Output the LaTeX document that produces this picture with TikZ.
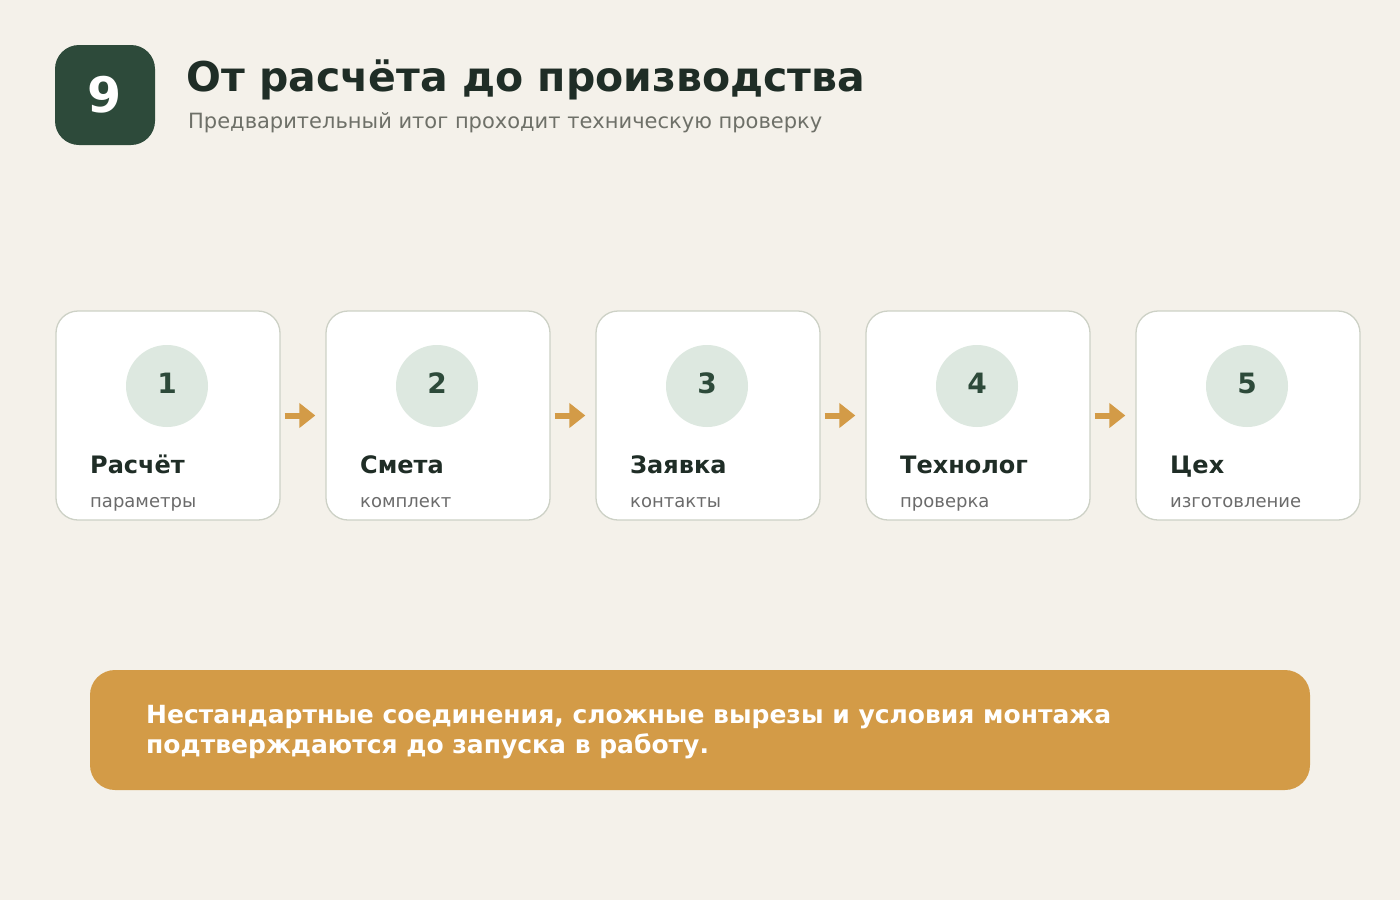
\documentclass[tikz,border=0pt]{standalone}
\usepackage{fontspec}
\setmainfont{DejaVu Sans}
\usetikzlibrary{arrows.meta}
\definecolor{bg}{HTML}{F4F1EA}
\definecolor{darkgreen}{HTML}{2D4A3A}
\definecolor{titlecol}{HTML}{1F2D26}
\definecolor{subcol}{HTML}{6E7068}
\definecolor{cardborder}{HTML}{CDD1C6}
\definecolor{circlecol}{HTML}{DDE8E0}
\definecolor{accent}{HTML}{D39B47}
\definecolor{graytext}{HTML}{6B6B6B}
\tikzset{
  card/.style={draw=cardborder, line width=1.3pt, fill=white, rounded corners=22pt, minimum width=224pt, minimum height=209pt, inner sep=0pt},
  numcirc/.style={circle, fill=circlecol, minimum size=82pt, inner sep=0pt, font=\bfseries\fontsize{28}{32}\selectfont, text=darkgreen},
  cardtitle/.style={anchor=base west, inner sep=0pt, font=\bfseries\fontsize{24}{28}\selectfont, text=titlecol},
  cardsub/.style={anchor=base west, inner sep=0pt, font=\fontsize{18}{21}\selectfont, text=graytext},
  flowarrow/.style={draw=accent, line width=6pt, -{Triangle[length=16pt,width=24pt]}}
}
\begin{document}
\begin{tikzpicture}[x=1pt,y=-1pt]
\path[use as bounding box, fill=bg] (0,0) rectangle (1400,900);
% badge
\node[fill=darkgreen, rounded corners=24pt, minimum width=100pt, minimum height=100pt, inner sep=0pt, text=white, font=\bfseries\fontsize{49}{52}\selectfont] (badge) at (105,95) {9};
\node[anchor=base west, inner sep=0pt, text=titlecol, font=\bfseries\fontsize{41}{46}\selectfont] (title) at (186,91) {От расчёта до производства};
\node[anchor=base west, inner sep=0pt, text=subcol, font=\fontsize{21}{25}\selectfont] (subtitle) at (188,128) {Предварительный итог проходит техническую проверку};
% cards
\foreach \i/\t/\s in {1/Расчёт/параметры, 2/Смета/комплект, 3/Заявка/контакты, 4/Технолог/проверка, 5/Цех/изготовление}{
  \pgfmathsetmacro{\cx}{168+270*(\i-1)}
  \node[card] (c\i) at (\cx,415.5) {};
  \node[numcirc] (n\i) at (\cx-1,386) {\raisebox{6pt}{\i}};
  \node[cardtitle] (t\i) at (\cx-78,473) {\t};
  \node[cardsub] (s\i) at (\cx-78,507) {\s};
}
\foreach \a/\b in {1/2,2/3,3/4,4/5}{
  \draw[flowarrow] ([xshift=4pt]c\a.east) -- ([xshift=-10pt]c\b.west);
}
% banner
\node[fill=accent, rounded corners=25pt, minimum width=1220pt, minimum height=120pt, inner sep=0pt] (banner) at (700,730) {};
\node[anchor=base west, inner sep=0pt, text=white, font=\bfseries\fontsize{25}{30}\selectfont] (bannertext) at (146,723) {Нестандартные соединения, сложные вырезы и условия монтажа};
\node[anchor=base west, inner sep=0pt, text=white, font=\bfseries\fontsize{25}{30}\selectfont] (bannertext2) at (146,753) {подтверждаются до запуска в работу.};
\end{tikzpicture}
\end{document}
